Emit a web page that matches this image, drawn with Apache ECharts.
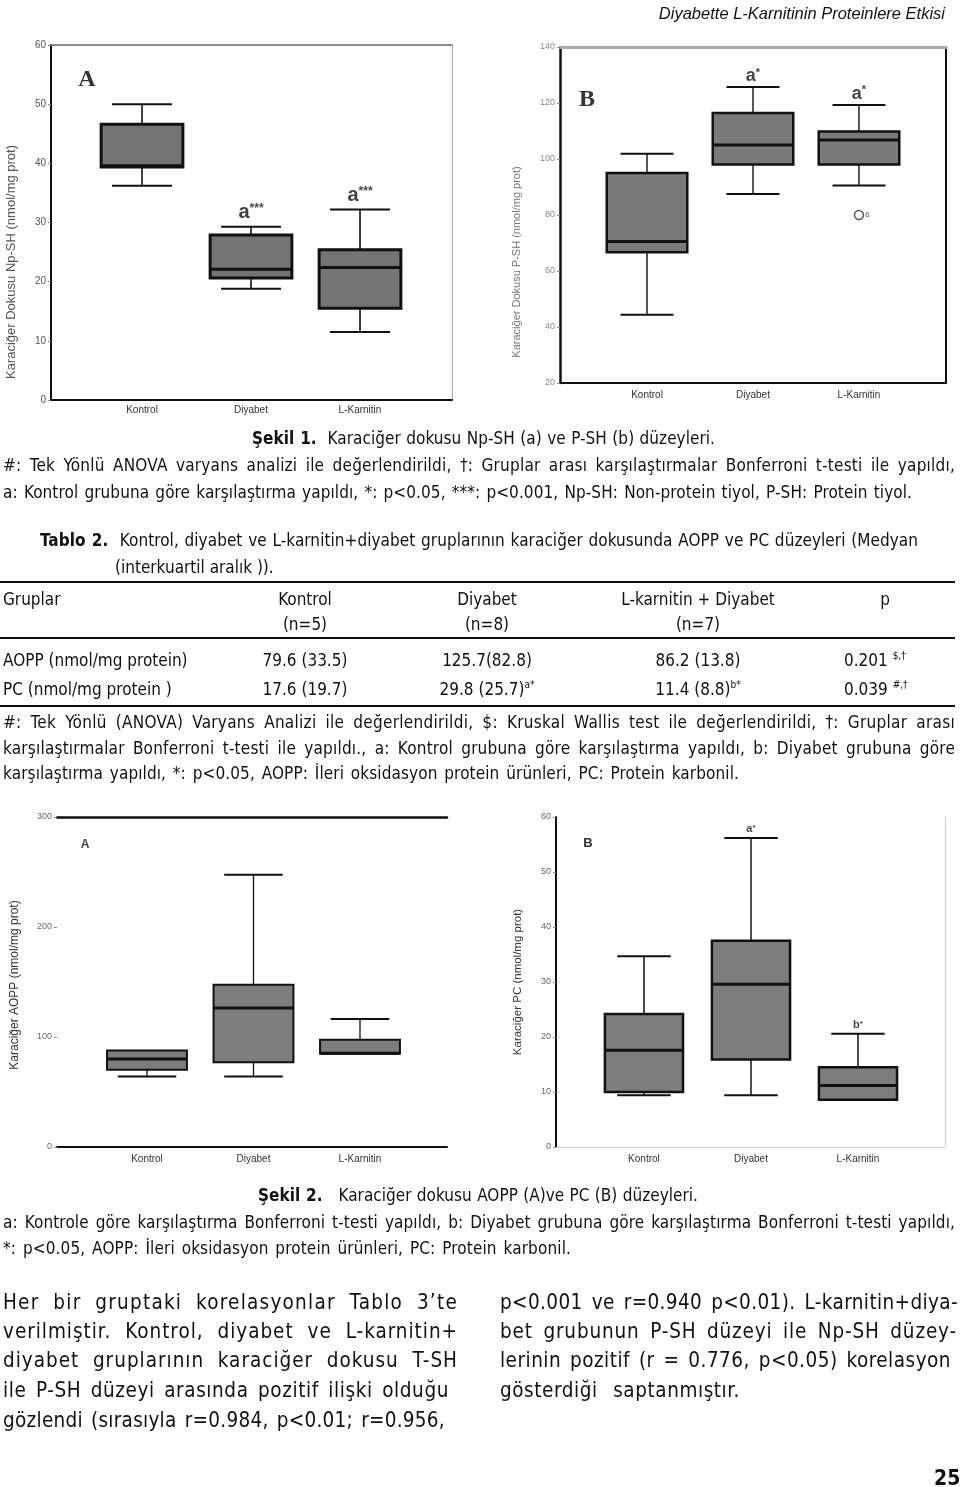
<!DOCTYPE html>
<html><head><meta charset="utf-8">
<script src="https://cdn.jsdelivr.net/npm/echarts@6/dist/echarts.min.js"></script>
<style>
html,body{margin:0;padding:0;background:#fff;}
#wrap{position:relative;width:960px;height:1487px;overflow:hidden;background:#fff;}
#chart{position:absolute;left:0;top:0;width:960px;height:1487px;}
.t{position:absolute;white-space:nowrap;font-family:"Liberation Sans Narrow","DejaVu Sans Condensed",sans-serif;color:#111;font-size:17px;line-height:22px;height:22px;}
.c{text-align:center;}
.rule{position:absolute;left:0;width:955px;background:#111;}
sup{font-size:10px;vertical-align:7px;line-height:0;}
</style></head>
<body><div id="wrap"><div id="chart"></div></div>
<script>
// ---------------- DATA ----------------
const categories = ['Kontrol', 'Diyabet', 'L-Karnitin'];
// box values: [min whisker, Q1, median, Q3, max whisker]
const npshBox = [[36.2, 39.4, 39.6, 46.6, 50.0], [18.8, 20.6, 22.1, 27.9, 29.3], [11.5, 15.5, 22.4, 25.4, 32.2]];
const npshSig = ['', 'a***', 'a***'];
const npshTicks = [0, 10, 20, 30, 40, 50, 60];

const pshBox = [[44.4, 66.7, 70.5, 95.0, 101.9], [87.5, 98.0, 105.0, 116.4, 125.7], [90.5, 98.0, 106.8, 109.8, 119.3]];
const pshSig = ['', 'a*', 'a*'];
const pshOutliers = [[2, 80.0, '6']];
const pshTicks = [20, 40, 60, 80, 100, 120, 140];

const aoppBox = [[64.1, 70.2, 80.1, 87.7, 87.7], [64.1, 77.1, 126.4, 147.6, 247.4], [84.7, 84.7, 85.2, 97.4, 116.4]];
const aoppSig = ['', '', ''];
const aoppTicks = [0, 100, 200, 300];

const pcBox = [[9.4, 10.0, 17.6, 24.2, 34.7], [9.4, 15.9, 29.6, 37.5, 56.2], [8.6, 8.6, 11.2, 14.5, 20.6]];
const pcSig = ['', 'a*', 'b*'];
const pcTicks = [0, 10, 20, 30, 40, 50, 60];

const tableHeader = ['Gruplar', 'Kontrol', 'Diyabet', 'L-karnitin + Diyabet', 'p'];
const tableN = ['', '(n=5)', '(n=8)', '(n=7)', ''];
const tableAOPP = ['AOPP (nmol/mg protein)', '79.6 (33.5)', '125.7(82.8)', '86.2 (13.8)', '0.201'];
const tablePC = ['PC (nmol/mg protein )', '17.6 (19.7)', '29.8 (25.7)', '11.4 (8.8)', '0.039'];
const tableAOPPSup = ['', '', '', '', '$,†'];
const tablePCSup = ['', '', 'a*', 'b*', '#,†'];

// ---------------- TEXT ----------------
const wrap = document.getElementById('wrap');
function addText(html, o) {
  const d = document.createElement('div');
  d.className = 't' + (o.c ? ' c' : '');
  d.innerHTML = html;
  const lh = o.lh || 22;
  d.style.lineHeight = lh + 'px';
  d.style.height = lh + 'px';
  d.style.top = (o.y - lh / 2) + 'px';
  if (o.c) { d.style.left = (o.x - 150) + 'px'; d.style.width = '300px'; }
  else if (o.r !== undefined) { d.style.right = (960 - o.r) + 'px'; }
  else { d.style.left = o.x + 'px'; }
  if (o.fs) d.style.fontSize = o.fs + 'px';
  if (o.ff) d.style.fontFamily = o.ff;
  if (o.st) d.setAttribute('style', d.getAttribute('style') + ';' + o.st);
  wrap.appendChild(d);
  if (o.w) {
    // fit the single line to the target width: share the slack between letters and word gaps
    const nat = d.getBoundingClientRect().width;
    const plain = d.textContent;
    const nSp = (plain.match(/\s/g) || []).length || 1;
    const nCh = plain.length;
    const extra = o.w - nat;
    const lsFrac = o.lsFrac !== undefined ? o.lsFrac : 0.35;
    d.style.letterSpacing = (extra * lsFrac / nCh) + 'px';
    d.style.wordSpacing = (extra * (1 - lsFrac) / nSp) + 'px';
  }
}
function rule(y, h) { const r = document.createElement('div'); r.className = 'rule'; r.style.top = y + 'px'; r.style.height = h + 'px'; wrap.appendChild(r); }

addText('Diyabette L-Karnitinin Proteinlere Etkisi', {r: 945, y: 13, fs: 16.5, ff: '"Liberation Sans",Arial,sans-serif', st: 'font-style:italic'});
addText('<b>Şekil 1.</b>&nbsp; Karaciğer dokusu Np-SH (a) ve P-SH (b) düzeyleri.', {x: 252, y: 438, w: 463});
addText('#: Tek Yönlü ANOVA varyans analizi ile değerlendirildi, †: Gruplar arası karşılaştırmalar Bonferroni t-testi ile yapıldı,', {x: 3, y: 465, w: 952});
addText('a: Kontrol grubuna göre karşılaştırma yapıldı, *: p&lt;0.05, ***: p&lt;0.001, Np-SH: Non-protein tiyol, P-SH: Protein tiyol.', {x: 3, y: 492, w: 909});
addText('<b>Tablo 2.</b>&nbsp; Kontrol, diyabet ve L-karnitin+diyabet gruplarının karaciğer dokusunda AOPP ve PC düzeyleri (Medyan', {x: 40, y: 540, w: 878});
addText('(interkuartil aralık )).', {x: 115, y: 567});
rule(581, 2); rule(637, 1.5); rule(705, 2);
const colX = [3, 305, 487, 698, 885];
[[tableHeader, null, 599], [tableN, null, 624], [tableAOPP, tableAOPPSup, 660], [tablePC, tablePCSup, 689]].forEach(([row, sup, y]) => {
  row.forEach((txt, i) => {
    if (!txt) return;
    const s = sup && sup[i] ? '<sup>' + sup[i] + '</sup>' : '';
    if (i === 0) addText(txt, {x: colX[0], y});
    else if (i === 4 && sup) addText(txt + ' ' + s, {x: 844, y});
    else addText(txt + s, {x: colX[i], y, c: true});
  });
});
addText('#: Tek Yönlü (ANOVA) Varyans Analizi ile değerlendirildi, $: Kruskal Wallis test ile değerlendirildi, †: Gruplar arası', {x: 3, y: 722, w: 952});
addText('karşılaştırmalar Bonferroni t-testi ile yapıldı., a: Kontrol grubuna göre karşılaştırma yapıldı, b: Diyabet grubuna göre', {x: 3, y: 748, w: 952});
addText('karşılaştırma yapıldı, *: p&lt;0.05, AOPP: İleri oksidasyon protein ürünleri, PC: Protein karbonil.', {x: 3, y: 773, w: 736});
addText('<b>Şekil 2.</b>&nbsp;&nbsp; Karaciğer dokusu AOPP (A)ve PC (B) düzeyleri.', {x: 258, y: 1195, w: 440});
addText('a: Kontrole göre karşılaştırma Bonferroni t-testi yapıldı, b: Diyabet grubuna göre karşılaştırma Bonferroni t-testi yapıldı,', {x: 3, y: 1222, w: 952});
addText('*: p&lt;0.05, AOPP: İleri oksidasyon protein ürünleri, PC: Protein karbonil.', {x: 3, y: 1248, w: 568});
const bodyL = ['Her bir gruptaki korelasyonlar Tablo 3’te', 'verilmiştir. Kontrol, diyabet ve L-karnitin+', 'diyabet gruplarının karaciğer dokusu T-SH', 'ile P-SH düzeyi arasında pozitif ilişki olduğu', 'gözlendi (sırasıyla r=0.984, p&lt;0.01; r=0.956,'];
const bodyLW = [455, 455, 455, 446, 442];
const bodyR = ['p&lt;0.001 ve r=0.940 p&lt;0.01). L-karnitin+diya-', 'bet grubunun P-SH düzeyi ile Np-SH düzey-', 'lerinin pozitif (r = 0.776, p&lt;0.05) korelasyon', 'gösterdiği saptanmıştır.'];
const bodyRW = [458, 457, 451, 240];
const bodyY = [1302, 1331, 1360, 1390, 1420];
bodyL.forEach((t, i) => addText(t, {x: 3, y: bodyY[i], w: bodyLW[i], fs: 20.5, lh: 26, lsFrac: 0.6}));
bodyR.forEach((t, i) => addText(t, {x: 500, y: bodyY[i], w: bodyRW[i], fs: 20.5, lh: 26, lsFrac: 0.6}));
addText('<b>25</b>', {x: 934, y: 1478, fs: 21, lh: 24});

// ---------------- CHARTS ----------------
const chart = echarts.init(document.getElementById('chart'), null, {renderer: 'canvas'});
const panels = [
  {grid: {left: 51, top: 45, width: 401, height: 355}, xr: [-0.835, 2.844], ticks: npshTicks, boxes: npshBox, sig: npshSig,
   boxW: 0.75, capW: 0.55, border: 3, fill: '#747474', wl: 1.6, lines: {bottom: ['#111', 2], top: ['#666', 1.5], left: ['#111', 2], right: ['#aaa', 1]},
   labColor: '#555', labFs: 10, catMargin: 5, sigFs: [20, 12], sigDist: 4,
   title: {text: 'Karaciğer Dokusu Np-SH (nmol/mg prot)', x: 11, y: 262, fs: 13, color: '#555'},
   letter: {text: 'A', x: 87, y: 80, fs: 24, ff: '"Liberation Serif",serif', color: '#333'}},
  {grid: {left: 560, top: 47, width: 386, height: 336}, xr: [-0.821, 2.821], ticks: pshTicks, boxes: pshBox, sig: pshSig, outliers: pshOutliers,
   boxW: 0.76, capW: 0.5, border: 2.5, fill: '#7a7a7a', wl: 1.4, lines: {bottom: ['#111', 2], top: ['#aaa', 3], left: ['#111', 2.5], right: ['#111', 2]},
   labColor: '#888', labFs: 9, catMargin: 7, sigFs: [18, 11], sigDist: 2,
   title: {text: 'Karaciğer Dokusu P-SH (nmol/mg prot)', x: 517, y: 262, fs: 11, color: '#777'},
   letter: {text: 'B', x: 587, y: 100, fs: 24, ff: '"Liberation Serif",serif', color: '#333'}},
  {grid: {left: 57, top: 817, width: 390, height: 330}, xr: [-0.845, 2.817], ticks: aoppTicks, boxes: aoppBox, sig: aoppSig,
   boxW: 0.75, capW: 0.55, border: 2, fill: '#7d7d7d', wl: 1.3, lines: {bottom: ['#111', 2], top: ['#111', 2.5], left: null, right: null},
   labColor: '#666', labFs: 9, catMargin: 7, sigFs: [12, 8], sigDist: 4,
   title: {text: 'Karaciğer AOPP (nmol/mg prot)', x: 15, y: 985, fs: 12, color: '#333'},
   letter: {text: 'A', x: 85, y: 845, fs: 12, ff: 'Arial,sans-serif', color: '#444'}},
  {grid: {left: 556, top: 817, width: 389, height: 330}, xr: [-0.822, 2.813], ticks: pcTicks, boxes: pcBox, sig: pcSig,
   boxW: 0.73, capW: 0.5, border: 2.5, fill: '#7d7d7d', wl: 1.5, lines: {bottom: ['#ccc', 1], top: null, left: ['#111', 2], right: ['#ccc', 1]},
   labColor: '#666', labFs: 9, catMargin: 7, sigFs: [11, 8], sigDist: 3,
   title: {text: 'Karaciğer PC (nmol/mg prot)', x: 518, y: 982, fs: 11.5, color: '#333'},
   letter: {text: 'B', x: 588, y: 843, fs: 13, ff: 'Arial,sans-serif', color: '#333'}}
];

const option = {animation: false, backgroundColor: '#fff', grid: [], xAxis: [], yAxis: [], series: [], graphic: []};
panels.forEach((p, gi) => {
  option.grid.push(Object.assign({containLabel: false}, p.grid));
  const bx = option.xAxis.length, by = option.yAxis.length;
  const ln = (v) => v ? {show: true, onZero: false, lineStyle: {color: v[0], width: v[1]}} : {show: false, onZero: false};
  option.xAxis.push({gridIndex: gi, type: 'value', position: 'bottom', min: p.xr[0], max: p.xr[1],
    axisLine: ln(p.lines.bottom), axisTick: {show: false}, splitLine: {show: false},
    axisLabel: {customValues: [0, 1, 2], formatter: v => categories[Math.round(v)] || '', color: '#333', fontSize: 10, fontFamily: 'Arial', margin: p.catMargin}});
  option.xAxis.push({gridIndex: gi, type: 'value', position: 'top', min: 0, max: 1, axisLine: ln(p.lines.top), axisTick: {show: false}, axisLabel: {show: false}, splitLine: {show: false}});
  const t = p.ticks;
  option.yAxis.push({gridIndex: gi, type: 'value', position: 'left', min: t[0], max: t[t.length - 1], interval: t[1] - t[0],
    axisLine: ln(p.lines.left), axisTick: {show: true, length: 3, lineStyle: {color: '#888'}}, splitLine: {show: false},
    axisLabel: {color: p.labColor, fontSize: p.labFs, fontFamily: 'Arial', margin: 5}});
  option.yAxis.push({gridIndex: gi, type: 'value', position: 'right', min: 0, max: 1, axisLine: ln(p.lines.right), axisTick: {show: false}, axisLabel: {show: false}, splitLine: {show: false}});

  option.series.push({
    type: 'custom', xAxisIndex: bx, yAxisIndex: by, clip: false,
    data: categories.map((c, i) => [i].concat(p.boxes[i])),
    renderItem: (params, api) => {
      const x = api.value(0);
      const lo = api.coord([x, api.value(1)]), q1 = api.coord([x, api.value(2)]), md = api.coord([x, api.value(3)]),
            q3 = api.coord([x, api.value(4)]), hi = api.coord([x, api.value(5)]);
      const bw = api.size([p.boxW, 0])[0], cw = api.size([p.capW, 0])[0];
      const cx = q1[0];
      const ch = [];
      const L = (x1, y1, x2, y2, w) => ch.push({type: 'line', shape: {x1, y1, x2, y2}, style: {stroke: '#111', lineWidth: w}});
      if (hi[1] < q3[1] - 0.5) { L(cx, q3[1], cx, hi[1], p.wl); L(cx - cw / 2, hi[1], cx + cw / 2, hi[1], 2); }
      if (lo[1] > q1[1] + 0.5) { L(cx, q1[1], cx, lo[1], p.wl); L(cx - cw / 2, lo[1], cx + cw / 2, lo[1], 2); }
      ch.push({type: 'rect', shape: {x: cx - bw / 2, y: q3[1], width: bw, height: q1[1] - q3[1]}, style: {fill: p.fill, stroke: '#111', lineWidth: p.border}});
      L(cx - bw / 2, md[1], cx + bw / 2, md[1], 3);
      return {type: 'group', children: ch};
    }
  });
  option.series.push({
    type: 'scatter', xAxisIndex: bx, yAxisIndex: by, symbolSize: 0, silent: true,
    data: categories.map((c, i) => ({value: [i, p.boxes[i][4]], s: p.sig[i]})).filter(d => d.s),
    label: {show: true, position: 'top', distance: p.sigDist, color: '#111',
      formatter: d => '{a|' + d.data.s.charAt(0) + '}{s|' + d.data.s.slice(1) + '}',
      rich: {a: {fontSize: p.sigFs[0], fontWeight: 'bold', fontFamily: 'Arial', color: '#111'},
             s: {fontSize: p.sigFs[1], fontWeight: 'bold', fontFamily: 'Arial', verticalAlign: 'top', color: '#111'}}}
  });
  if (p.outliers) {
    option.series.push({type: 'scatter', xAxisIndex: bx, yAxisIndex: by, symbol: 'circle', symbolSize: 9,
      itemStyle: {color: '#fff', borderColor: '#333', borderWidth: 1.5},
      data: p.outliers.map(o => ({value: [o[0], o[1]], n: o[2]})),
      label: {show: true, position: 'right', distance: 1, formatter: d => d.data.n, fontSize: 8, color: '#333'}});
  }
  option.graphic.push({type: 'text', x: p.title.x, y: p.title.y, rotation: Math.PI / 2,
    style: {text: p.title.text, align: 'center', verticalAlign: 'middle', fontSize: p.title.fs, fontFamily: 'Arial', fill: p.title.color}});
  option.graphic.push({type: 'text', x: p.letter.x, y: p.letter.y,
    style: {text: p.letter.text, align: 'center', verticalAlign: 'middle', fontSize: p.letter.fs, fontFamily: p.letter.ff, fontWeight: 'bold', fill: p.letter.color}});
});
chart.setOption(option);
</script>
</body></html>
